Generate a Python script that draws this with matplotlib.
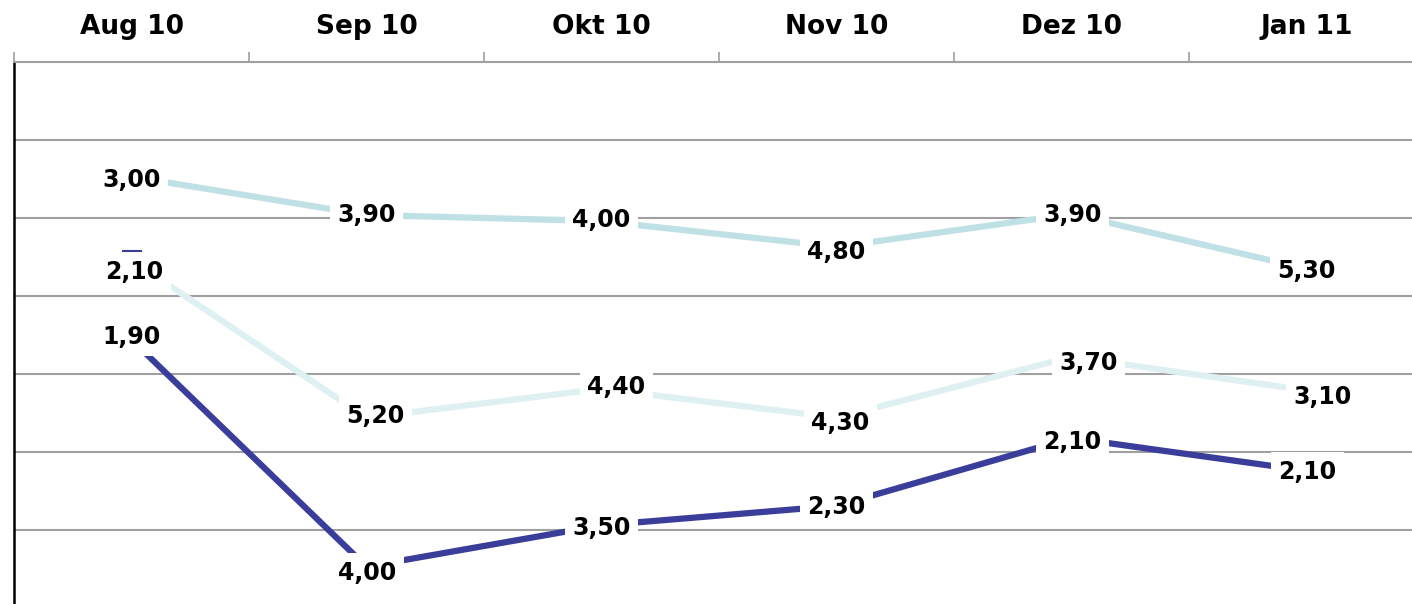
import matplotlib.pyplot as plt
import numpy as np

# categories along the top axis
months = ['Aug 10', 'Sep 10', 'Okt 10', 'Nov 10', 'Dez 10', 'Jan 11']

# plotted positions of the three series (grid units)
teal_y = [5.53, 5.04, 4.96, 4.63, 5.05, 4.35]
light_y = [4.46, 2.44, 2.81, 2.44, 3.22, 2.79]
dark_y = [3.44, 0.53, 1.06, 1.31, 2.18, 1.76]
stub_y = [4.58]  # tiny dark dash at Aug

# value labels shown on the points
teal_lbl = ['3,00', '3,90', '4,00', '4,80', '3,90', '5,30']
light_lbl = ['2,10', '5,20', '4,40', '4,30', '3,70', '3,10']
dark_lbl = ['1,90', '4,00', '3,50', '2,30', '2,10', '2,10']

# label nudges in pixels (x right, y up)
teal_off = [(0, -3), (0, 0), (0, 1), (0, -5), (1, -1), (0, -2)]
light_off = [(3, -12), (9, 2), (15, 2), (4, -5), (17, -6), (16, -7)]
dark_off = [(0, 3), (1, -6), (0, -3), (0, -1), (1, -4), (1, -1)]

c_teal = '#bfe0e4'
c_light = '#dff0f2'
c_dark = '#3a3e9a'
c_grid = '#a0a0a0'

fig = plt.figure(figsize=(14.12, 6.04), dpi=100)
W, H = 1412, 604
ax = fig.add_axes([14 / W, 0, (W - 14) / W, (H - 62) / H])

x = np.arange(len(months))
ax.set_xlim(-0.5, -0.5 + (W - 14) / 235)
ax.set_ylim(7 - (H - 62) / 78, 7)

ax.set_yticks(range(1, 7))
ax.yaxis.grid(True, color=c_grid, linewidth=1.5)
ax.tick_params(axis='y', left=False, labelleft=False)
ax.set_axisbelow(True)

ax.xaxis.tick_top()
ax.set_xticks(x)
ax.set_xticklabels(months, fontsize=19, fontweight='bold')
ax.tick_params(axis='x', which='major', length=0, pad=16)
ax.set_xticks(np.arange(len(months)) - 0.5, minor=True)
ax.tick_params(axis='x', which='minor', length=7, width=1.2, color=c_grid)

for s in ['right', 'bottom']:
    ax.spines[s].set_visible(False)
ax.spines['top'].set_color(c_grid)
ax.spines['top'].set_linewidth(1.5)
ax.spines['left'].set_color('black')
ax.spines['left'].set_linewidth(1.8)

ax.plot(x, teal_y, color=c_teal, linewidth=4.5, solid_capstyle='butt', zorder=2)
ax.plot(x, light_y, color=c_light, linewidth=4.5, solid_capstyle='butt', zorder=2)
ax.plot(x, dark_y, color=c_dark, linewidth=4.5, solid_capstyle='butt', zorder=2)
ax.plot(x[:1], stub_y, linestyle='none', marker='_', markersize=15,
        markeredgewidth=1.5, color=c_dark, zorder=4)

for ys, lbls, offs in [(teal_y, teal_lbl, teal_off),
                       (light_y, light_lbl, light_off),
                       (dark_y, dark_lbl, dark_off)]:
    for xi, yi, t, (dx, dy) in zip(x, ys, lbls, offs):
        ax.annotate(t, (xi, yi), xytext=(dx, dy), textcoords='offset pixels',
                    ha='center', va='center', fontsize=17, fontweight='bold',
                    color='black', zorder=3,
                    bbox=dict(boxstyle='square,pad=0.32', fc='white', ec='none'))

fig.savefig('out.png', dpi=100)
